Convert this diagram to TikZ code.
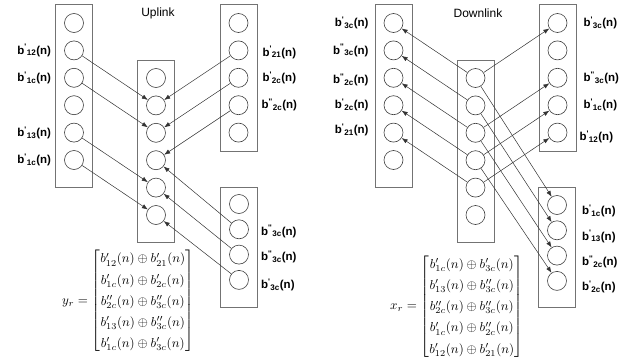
\documentclass[tikz,border=0pt]{standalone}
\usepackage{amsmath}
\usepackage[no-math]{fontspec}
\newfontfamily\labelfont{Liberation Sans}
\usetikzlibrary{arrows.meta, positioning}
\newcommand\rowgap{27.4pt}
\newcommand\lowgap{25.3pt}
\newcommand\cellsize{19pt}
\newcommand\sig[2]{{\labelfont\bfseries b\textsuperscript{#1}\textsubscript{#2}(n)}}
\tikzstyle{lane} = [rectangle, minimum width=37pt, draw=black!55, line width=0.8pt]
\tikzstyle{cell} = [circle, minimum size=\cellsize, inner sep=0pt, draw=black!75, line width=0.6pt]
\tikzstyle{tag} = [inner sep=0pt, font=\fontsize{11.5}{13}\selectfont]
\tikzstyle{title} = [font=\labelfont\fontsize{12}{14}\selectfont]
\tikzstyle{vec} = [scale=1.3, transform shape]
\tikzstyle{arrow} = [line width=0.5pt, draw=black!80, -{Latex[length=6pt,width=4.5pt]}]

\begin{document}
\begin{tikzpicture}[x=1pt, y=-1pt, node distance=\rowgap]
            \useasboundingbox (0,0) rectangle (629,364);

            % uplink
            \node (uptitle) [title] at (158,13) {Uplink};

            \node (ulbox) [lane, minimum height=183pt] at (74,95.5) {};
            \node (ul1) [cell] at (74,23) {};
            \node (ul2) [cell, below of=ul1] {};
            \node (ul3) [cell, below of=ul2] {};
            \node (ul4) [cell, below of=ul3] {};
            \node (ul5) [cell, below of=ul4] {};
            \node (ul6) [cell, below of=ul5] {};

            \node (umbox) [lane, minimum height=182pt] at (156,151) {};
            \node (um1) [cell] at (156,78) {};
            \node (um2) [cell, below of=um1] {};
            \node (um3) [cell, below of=um2] {};
            \node (um4) [cell, below of=um3] {};
            \node (um5) [cell, below of=um4] {};
            \node (um6) [cell, below of=um5] {};

            \node (utbox) [lane, minimum height=147pt] at (238.5,77.5) {};
            \node (ut1) [cell] at (238.5,23) {};
            \node (ut2) [cell, below of=ut1] {};
            \node (ut3) [cell, below of=ut2] {};
            \node (ut4) [cell, below of=ut3] {};
            \node (ut5) [cell, below of=ut4] {};

            \node (ubbox) [lane, minimum height=120pt] at (239,247) {};
            \node (ub1) [cell] at (239,204) {};
            \node (ub2) [cell, node distance=\lowgap, below of=ub1] {};
            \node (ub3) [cell, node distance=\lowgap, below of=ub2] {};
            \node (ub4) [cell, node distance=\lowgap, below of=ub3] {};

            \node (tul2) [tag, left=13pt of ul2] {\sig{'}{12}};
            \node (tul3) [tag, left=13pt of ul3] {\sig{'}{1c}};
            \node (tul5) [tag, left=13pt of ul5] {\sig{'}{13}};
            \node (tul6) [tag, left=13pt of ul6] {\sig{'}{1c}};
            \node (tut2) [tag, right=14pt of ut2, yshift=-2pt] {\sig{'}{21}};
            \node (tut3) [tag, right=14pt of ut3] {\sig{'}{2c}};
            \node (tut4) [tag, right=13pt of ut4] {\sig{''}{2c}};
            \node (tub2) [tag, right=12pt of ub2, yshift=-2pt] {\sig{''}{3c}};
            \node (tub3) [tag, right=12pt of ub3, yshift=-2pt] {\sig{''}{3c}};
            \node (tub4) [tag, right=12pt of ub4, yshift=-5pt] {\sig{'}{3c}};

            \node (yr) [vec] at (128,301) {\renewcommand\arraystretch{1.36}$y_r = \begin{bmatrix}
                b'_{12}(n)\oplus b'_{21}(n)\\
                b'_{1c}(n)\oplus b'_{2c}(n)\\
                b''_{2c}(n)\oplus b''_{3c}(n)\\
                b'_{13}(n)\oplus b''_{3c}(n)\\
                b'_{1c}(n)\oplus b'_{3c}(n)
            \end{bmatrix}$};

            \draw [arrow] (ul2) -- (um2);
            \draw [arrow] (ul3) -- (um3);
            \draw [arrow] (ul5) -- (um5);
            \draw [arrow] (ul6) -- (um6);
            \draw [arrow] (ut2) -- (um2);
            \draw [arrow] (ut3) -- (um3);
            \draw [arrow] (ut4) -- (um4);
            \draw [arrow] (ub2) -- (um4);
            \draw [arrow] (ub3) -- (um5);
            \draw [arrow] (ub4) -- (um6);

            % downlink
            \node (downtitle) [title] at (478,13) {Downlink};

            \node (dlbox) [lane, minimum height=183pt] at (393.5,95.5) {};
            \node (dl1) [cell] at (393.5,23) {};
            \node (dl2) [cell, below of=dl1] {};
            \node (dl3) [cell, below of=dl2] {};
            \node (dl4) [cell, below of=dl3] {};
            \node (dl5) [cell, below of=dl4] {};
            \node (dl6) [cell, below of=dl5] {};

            \node (dmbox) [lane, minimum height=182pt] at (475.5,151) {};
            \node (dm1) [cell] at (475.5,78) {};
            \node (dm2) [cell, below of=dm1] {};
            \node (dm3) [cell, below of=dm2] {};
            \node (dm4) [cell, below of=dm3] {};
            \node (dm5) [cell, below of=dm4] {};
            \node (dm6) [cell, below of=dm5] {};

            \node (dtbox) [lane, minimum height=147pt] at (557.5,77.5) {};
            \node (dt1) [cell] at (557.5,23) {};
            \node (dt2) [cell, below of=dt1] {};
            \node (dt3) [cell, below of=dt2] {};
            \node (dt4) [cell, below of=dt3] {};
            \node (dt5) [cell, below of=dt4] {};

            \node (dbbox) [lane, minimum height=120pt] at (557,247) {};
            \node (db1) [cell] at (557,205) {};
            \node (db2) [cell, node distance=\lowgap, below of=db1] {};
            \node (db3) [cell, node distance=\lowgap, below of=db2] {};
            \node (db4) [cell, node distance=\lowgap, below of=db3] {};

            \node (tdl1) [tag, left=15pt of dl1] {\sig{'}{3c}};
            \node (tdl2) [tag, left=15pt of dl2] {\sig{''}{3c}};
            \node (tdl3) [tag, left=15pt of dl3, yshift=-2pt] {\sig{''}{2c}};
            \node (tdl4) [tag, left=15pt of dl4] {\sig{'}{2c}};
            \node (tdl5) [tag, left=15pt of dl5, yshift=3pt] {\sig{'}{21}};
            \node (tdt1) [tag, right=16pt of dt1] {\sig{'}{3c}};
            \node (tdt3) [tag, right=16pt of dt3] {\sig{''}{3c}};
            \node (tdt4) [tag, right=16pt of dt4] {\sig{'}{1c}};
            \node (tdt5) [tag, right=12pt of dt5, yshift=-4pt] {\sig{'}{12}};
            \node (tdb1) [tag, right=15pt of db1, yshift=-6pt] {\sig{'}{1c}};
            \node (tdb2) [tag, right=15pt of db2, yshift=-6pt] {\sig{'}{13}};
            \node (tdb3) [tag, right=15pt of db3, yshift=-6pt] {\sig{''}{2c}};
            \node (tdb4) [tag, right=15pt of db4, yshift=-6pt] {\sig{'}{2c}};

            \node (xr) [vec] at (456.5,306.5) {\renewcommand\arraystretch{1.36}$x_r = \begin{bmatrix}
                b'_{1c}(n)\oplus b'_{3c}(n)\\
                b'_{13}(n)\oplus b''_{3c}(n)\\
                b''_{2c}(n)\oplus b''_{3c}(n)\\
                b'_{1c}(n)\oplus b''_{2c}(n)\\
                b'_{12}(n)\oplus b'_{21}(n)
            \end{bmatrix}$};

            \draw [arrow] (dm1) -- (dl1);
            \draw [arrow] (dm2) -- (dl2);
            \draw [arrow] (dm3) -- (dl3);
            \draw [arrow] (dm4) -- (dl4);
            \draw [arrow] (dm5) -- (dl5);
            \draw [arrow] (dm1) -- (dt1);
            \draw [arrow] (dm3) -- (dt3);
            \draw [arrow] (dm4) -- (dt4);
            \draw [arrow] (dm5) -- (dt5);
            \draw [arrow] (dm1) -- (db1);
            \draw [arrow] (dm2) -- (db2);
            \draw [arrow] (dm3) -- (db3);
            \draw [arrow] (dm4) -- (db4);

        \end{tikzpicture}
\end{document}
